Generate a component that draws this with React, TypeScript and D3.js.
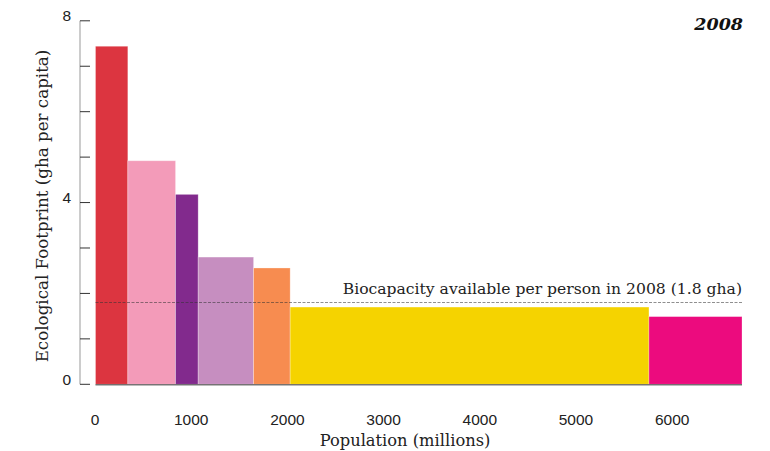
import React from "react";
import * as d3 from "d3";

const groups = ["g1", "g2", "g3", "g4", "g5", "g6", "g7"];
const populations = [336, 496, 235, 576, 380, 3729, 967];
const footprints = [7.44, 4.92, 4.18, 2.8, 2.56, 1.7, 1.49];
const colors = ["#dc3540", "#f39bb9", "#822a8d", "#c68ec0", "#f78c50", "#f5d300", "#ec0b7e"];
const xTicks = [0, 1000, 2000, 3000, 4000, 5000, 6000];
const yTicks = [0, 1, 2, 3, 4, 5, 6, 7, 8];
const yLabelTicks = [0, 4, 8];
const biocapacity = 1.8;
const yearLabel = "2008";
const bioLabel = "Biocapacity available per person in 2008 (1.8 gha)";

export default function App() {
  const W = 770, H = 451;
  const total = d3.sum(populations);
  const x = d3.scaleLinear().domain([0, total]).range([95.5, 742]);
  const y = d3.scaleLinear().domain([0, 8]).range([384.3, 20.8]);
  const starts = d3.cumsum([0, ...populations]);
  const serif = "Georgia, 'DejaVu Serif', serif";
  const sans = "'Liberation Sans', Arial, sans-serif";
  const axisX = 80;

  return (
    <svg width={W} height={H} style={{ position: "absolute", left: 0, top: 0, background: "#fff" }}>
      {groups.map((g, i) => (
        <rect
          key={g}
          x={x(starts[i])}
          y={y(footprints[i])}
          width={x(starts[i] + populations[i]) - x(starts[i])}
          height={y(0) - y(footprints[i])}
          fill={colors[i]}
          stroke="rgba(255,255,255,0.35)"
          strokeWidth={0.8}
        />
      ))}
      {/* baseline under bars */}
      <line x1={x(0)} x2={x(total)} y1={y(0) + 0.5} y2={y(0) + 0.5} stroke="#555" strokeOpacity={0.8} strokeWidth={1.5} />
      {/* biocapacity dashed line */}
      <line
        x1={x(0)}
        x2={x(total)}
        y1={y(biocapacity)}
        y2={y(biocapacity)}
        stroke="#333"
        strokeOpacity={0.55}
        strokeWidth={1}
        strokeDasharray="3,1.5"
      />
      <text x={x(total)} y={y(biocapacity) - 9} textAnchor="end" fontFamily={serif} fontSize={15.6} fill="#222">
        {bioLabel}
      </text>
      {/* y axis */}
      <line x1={axisX} x2={axisX} y1={y(8)} y2={y(0)} stroke="#999" strokeWidth={1} />
      {yTicks.map((t) => (
        <line key={t} x1={axisX} x2={axisX + 10} y1={y(t)} y2={y(t)} stroke="#333" strokeWidth={1} />
      ))}
      {yLabelTicks.map((t) => (
        <text key={t} x={71} y={y(t) + 0.5} textAnchor="end" fontFamily={sans} fontSize={15.5} fill="#222">
          {t}
        </text>
      ))}
      <text
        transform={`translate(48,206) rotate(-90)`}
        textAnchor="middle"
        fontFamily={serif}
        fontSize={16.7}
        fill="#222"
      >
        Ecological Footprint (gha per capita)
      </text>
      {/* x tick labels */}
      {xTicks.map((t) => (
        <text key={t} x={95 + t * 0.0962} y={425} textAnchor="middle" fontFamily={sans} fontSize={15.5} fill="#222">
          {t}
        </text>
      ))}
      <text x={405} y={446} textAnchor="middle" fontFamily={serif} fontSize={16.3} fill="#222">
        Population (millions)
      </text>
      <text x={743} y={30} textAnchor="end" fontFamily={serif} fontSize={17.5} fontWeight="bold" fontStyle="italic" fill="#111">
        {yearLabel}
      </text>
    </svg>
  );
}
